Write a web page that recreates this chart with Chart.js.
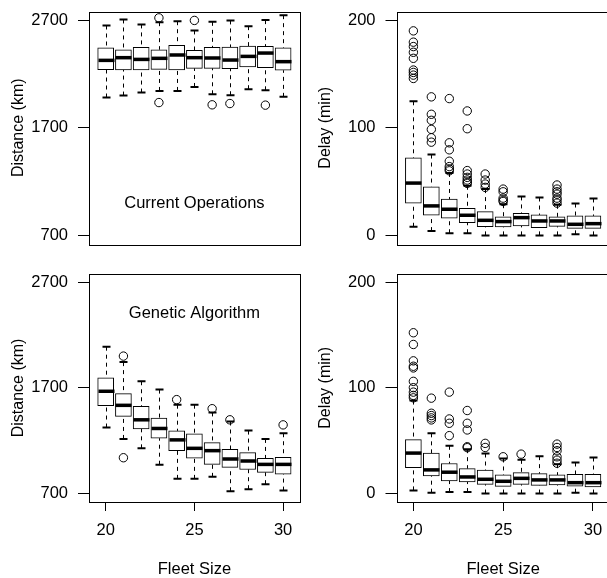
<!DOCTYPE html>
<html>
<head>
<meta charset="utf-8">
<title>Fleet size boxplots</title>
<script src="https://cdn.jsdelivr.net/npm/chart.js"></script>
<style>
  html, body { margin: 0; padding: 0; background: #fff; }
  body { width: 607px; height: 578px; overflow: hidden; position: relative; }
  canvas { position: absolute; }
</style>
</head>
<body>
<canvas id="curDistChart" width="305" height="250" style="left:0;top:0"></canvas>
<canvas id="curDelayChart" width="309" height="250" style="left:306px;top:0"></canvas>
<canvas id="gaDistChart" width="305" height="318" style="left:0;top:260px"></canvas>
<canvas id="gaDelayChart" width="309" height="318" style="left:306px;top:260px"></canvas>
<script>
const fleetSizes = [20, 21, 22, 23, 24, 25, 26, 27, 28, 29, 30];
const fleetTicks = [20, 25, 30];
const distTicks = [700, 1700, 2700];
const delayTicks = [0, 100, 200];

// Current operations - distance (km)
const curDistLow  = [1981, 1999, 2027, 2042, 2042, 2079, 2011, 2002, 2058, 2048, 1987];
const curDistQ1   = [2240, 2237, 2237, 2243, 2237, 2252, 2252, 2249, 2265, 2258, 2234];
const curDistMed  = [2326, 2351, 2335, 2345, 2376, 2351, 2348, 2329, 2363, 2394, 2314];
const curDistQ3   = [2443, 2425, 2447, 2425, 2465, 2419, 2447, 2450, 2459, 2456, 2443];
const curDistHigh = [2650, 2706, 2660, 2681, 2690, 2604, 2684, 2697, 2644, 2700, 2746];
const curDistOut  = [[], [], [], [2721, 1934], [], [2697], [1913], [1925], [], [1910], []];

// Current operations - delay (min)
const curDelayLow  = [8, 4, 2, 2, 0, 0, 0, 0, 0, 1, 0];
const curDelayQ1   = [30, 18.7, 15.9, 11.9, 8.1, 7.8, 8.8, 7.2, 8.4, 6.5, 6.5];
const curDelayMed  = [48.6, 27.4, 24.3, 18.7, 14, 12.8, 16.5, 13.4, 13.4, 10.3, 10.9];
const curDelayQ3   = [72, 45.2, 33.7, 25.2, 22.1, 17.2, 20.6, 19, 17.2, 18.1, 18.1];
const curDelayHigh = [124.6, 75.1, 58, 46.1, 43, 29, 36.2, 35.2, 28.4, 29.6, 34.3];
const curDelayOut  = [
  [190, 179.5, 175.4, 170.1, 164.5, 153.6, 151.4, 148.9, 145.8],
  [128.7, 112.5, 106.9, 98.5, 90.7, 86.6],
  [127.1, 86, 79.5, 68.9, 63.9, 61.7, 60],
  [115.6, 99.1, 60.2, 57, 53.9, 51.4, 49.5, 48.3],
  [57, 51.4, 47.7, 44.6],
  [43, 40.5, 34.6, 32.7, 31.5],
  [],
  [],
  [46.8, 43, 40.5, 38.3, 34.6, 32.7, 30],
  [],
  []
];

// Genetic algorithm - distance (km)
const gaDistLow  = [1325, 1217, 1128, 973, 839, 839, 858, 722, 741, 789, 728];
const gaDistQ1   = [1531, 1430, 1312, 1224, 1106, 1036, 976, 947, 928, 900, 884];
const gaDistMed  = [1668, 1535, 1398, 1316, 1208, 1128, 1106, 1027, 1008, 976, 976];
const gaDistQ3   = [1795, 1646, 1525, 1414, 1293, 1265, 1182, 1119, 1087, 1033, 1043];
const gaDistHigh = [2090, 1944, 1763, 1684, 1541, 1541, 1468, 1382, 1296, 1217, 1271];
const gaDistOut  = [[], [2001, 1039], [], [], [1589], [], [1503], [1398], [], [], [1350]];

// Genetic algorithm - delay (min)
const gaDelayLow  = [3, 0.8, 1.4, 1.4, 0, 0, 0, 0, 0, 0.8, 0];
const gaDelayQ1   = [24.6, 16.7, 11.9, 11, 8.7, 6.8, 8.7, 7.8, 8.1, 7.1, 6.2];
const gaDelayMed  = [38.3, 22.4, 20.2, 15.7, 13.5, 11.6, 14.4, 12.9, 12.9, 10.3, 10.3];
const gaDelayQ3   = [51, 38.3, 28.4, 23.6, 22.1, 17.6, 19.8, 18.9, 17.6, 18.3, 18.3];
const gaDelayHigh = [88, 57, 45.2, 42, 37.9, 33.2, 31.9, 35.4, 27.8, 29.4, 34.1];
const gaDelayOut  = [
  [152.2, 141.1, 125.6, 120.5, 118.9, 106.2, 100.2, 96, 92.9, 90.6],
  [90.3, 76, 73.8, 71.6, 69.7],
  [96, 70.6, 66.5, 54.8],
  [78.6, 66.5, 60.2, 44.3, 43.4],
  [47.5, 43.6],
  [34.8],
  [37.3],
  [],
  [46.8, 43.6, 40.5, 34.8, 31.6, 28.7],
  [],
  []
];

const FONT = "'Liberation Sans', Arial, Helvetica, sans-serif";
Chart.defaults.font.family = FONT;
Chart.defaults.color = "#000";
Chart.defaults.animation = false;
Chart.defaults.plugins.legend.display = false;
Chart.defaults.plugins.tooltip.enabled = false;

const BOX_W = 16;

function boxPanel(id, o) {
    const boxes = fleetSizes.map((x, i) => ({ x: x, y: [o.q1[i], o.q3[i]] }));
    const outliers = [];
    fleetSizes.forEach((x, i) => o.out[i].forEach(v => outliers.push({ x: x, y: v })));

    // whiskers, staples, medians, frame and panel caption
    const boxExtras = {
        id: "boxExtras",
        afterDatasetsDraw(chart) {
            const ctx = chart.ctx;
            const xs = chart.scales.x;
            const ys = chart.scales.y;
            const a = chart.chartArea;
            ctx.save();
            ctx.strokeStyle = "#000";
            fleetSizes.forEach((f, i) => {
                const x = Math.round(xs.getPixelForValue(f)) + 0.5;
                ctx.lineWidth = 1;
                ctx.setLineDash([4, 4]);
                ctx.beginPath();
                ctx.moveTo(x, ys.getPixelForValue(o.high[i]));
                ctx.lineTo(x, ys.getPixelForValue(o.q3[i]));
                ctx.moveTo(x, ys.getPixelForValue(o.low[i]));
                ctx.lineTo(x, ys.getPixelForValue(o.q1[i]));
                ctx.stroke();
                ctx.setLineDash([]);

                ctx.lineWidth = 2;
                ctx.beginPath();
                [o.low[i], o.high[i]].forEach(v => {
                    const y = ys.getPixelForValue(v);
                    ctx.moveTo(x - BOX_W / 4, y);
                    ctx.lineTo(x + BOX_W / 4, y);
                });
                ctx.stroke();

                ctx.lineWidth = 3.5;
                ctx.beginPath();
                const ym = ys.getPixelForValue(o.med[i]);
                ctx.moveTo(x - BOX_W / 2, ym);
                ctx.lineTo(x + BOX_W / 2, ym);
                ctx.stroke();
            });
            ctx.lineWidth = 1;
            ctx.strokeRect(Math.round(a.left) + 0.5, Math.round(a.top) + 0.5,
                Math.round(a.right - a.left), Math.round(a.bottom - a.top));
            if (o.label) {
                ctx.fillStyle = "#000";
                ctx.font = "16.5px " + FONT;
                ctx.textAlign = "center";
                ctx.textBaseline = "middle";
                ctx.fillText(o.label, xs.getPixelForValue(25), ys.getPixelForValue(o.labelY));
            }
            ctx.restore();
        }
    };

    return new Chart(document.getElementById(id), {
        type: "bar",
        data: {
            datasets: [
                {
                    data: boxes,
                    backgroundColor: "#fff",
                    borderColor: "#000",
                    borderWidth: 1,
                    borderSkipped: false,
                    barThickness: BOX_W
                },
                {
                    type: "scatter",
                    data: outliers,
                    pointStyle: "circle",
                    pointRadius: 4.2,
                    backgroundColor: "rgba(0,0,0,0)",
                    borderColor: "#000",
                    borderWidth: 1
                }
            ]
        },
        options: {
            responsive: false,
            devicePixelRatio: 1,
            events: [],
            layout: { padding: o.padding },
            scales: {
                x: {
                    type: "linear",
                    min: 19.06,
                    max: 30.94,
                    offset: false,
                    display: o.showX,
                    afterBuildTicks: s => { s.ticks = fleetTicks.map(v => ({ value: v })); },
                    afterFit: s => {
                        if (o.showX) s.height = 76;
                        s.paddingLeft = 0;
                        s.paddingRight = 0;
                    },
                    grid: { drawOnChartArea: false, offset: false, tickLength: 9, color: "#000" },
                    border: { display: false },
                    ticks: { padding: 10, maxRotation: 0, autoSkip: false, font: { size: 16.5 }, callback: v => String(v) },
                    title: { display: true, text: "Fleet Size", font: { size: 16.5, lineHeight: 1 }, padding: 0 }
                },
                y: {
                    type: "linear",
                    min: o.yMin,
                    max: o.yMax,
                    afterBuildTicks: s => { s.ticks = o.yTicks.map(v => ({ value: v })); },
                    afterFit: s => { s.width = o.axisW; s.paddingTop = 0; s.paddingBottom = 0; },
                    grid: { drawOnChartArea: false, tickLength: 11, color: "#000" },
                    border: { display: false },
                    ticks: { padding: 10, autoSkip: false, font: { size: 16.5 }, callback: v => String(v) },
                    title: { display: true, text: o.yTitle, font: { size: 16, lineHeight: 1 }, padding: { top: o.titlePad, bottom: 0 } }
                }
            }
        },
        plugins: [boxExtras]
    });
}

boxPanel("curDistChart", {
    low: curDistLow, q1: curDistQ1, med: curDistMed, q3: curDistQ3, high: curDistHigh, out: curDistOut,
    yMin: 620, yMax: 2780, yTicks: distTicks, yTitle: "Distance (km)",
    axisW: 89, titlePad: 11, showX: false,
    padding: { top: 11.5, bottom: 6, left: 0, right: 1.5 },
    label: "Current Operations", labelY: 1000
});

boxPanel("curDelayChart", {
    low: curDelayLow, q1: curDelayQ1, med: curDelayMed, q3: curDelayQ3, high: curDelayHigh, out: curDelayOut,
    yMin: -8, yMax: 208, yTicks: delayTicks, yTitle: "Delay (min)",
    axisW: 90.5, titlePad: 12, showX: false,
    padding: { top: 11.5, bottom: 6, left: 0, right: 2.5 }
});

boxPanel("gaDistChart", {
    low: gaDistLow, q1: gaDistQ1, med: gaDistMed, q3: gaDistQ3, high: gaDistHigh, out: gaDistOut,
    yMin: 620, yMax: 2780, yTicks: distTicks, yTitle: "Distance (km)",
    axisW: 89, titlePad: 11, showX: true,
    padding: { top: 13.8, bottom: 0, left: 0, right: 1.5 },
    label: "Genetic Algorithm", labelY: 2400
});

boxPanel("gaDelayChart", {
    low: gaDelayLow, q1: gaDelayQ1, med: gaDelayMed, q3: gaDelayQ3, high: gaDelayHigh, out: gaDelayOut,
    yMin: -8, yMax: 208, yTicks: delayTicks, yTitle: "Delay (min)",
    axisW: 90.5, titlePad: 12, showX: true,
    padding: { top: 13.8, bottom: 0, left: 0, right: 2.5 }
});
</script>
</body>
</html>
